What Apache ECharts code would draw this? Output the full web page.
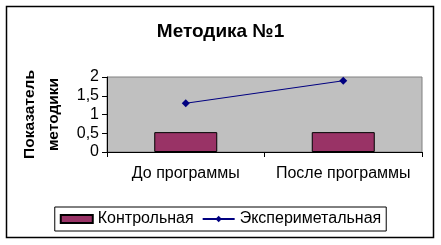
<!DOCTYPE html>
<html><head><meta charset="utf-8">
<script src="https://cdn.jsdelivr.net/npm/echarts@6/dist/echarts.min.js"></script>
<style>html,body{margin:0;padding:0;background:#fff}#c{width:441px;height:245px}</style>
</head><body><div id="c"></div>
<script>
const categories = ['До программы', 'После программы'];
const seriesNames = ['Контрольная', 'Экспериметальная'];
const controlValues = [0.53, 0.53];
const experimentalValues = [1.3, 1.9];
const yTicks = ['0', '0,5', '1', '1,5', '2'];
const chart = echarts.init(document.getElementById('c'), null, {renderer: 'canvas'});
const font = 'Liberation Sans, Arial, sans-serif';
chart.setOption({
  animation: false,
  backgroundColor: '#fff',
  title: {
    text: 'Методика №1', left: 'center', top: 17,
    textStyle: {fontFamily: font, fontSize: 19, fontWeight: 'bold', color: '#000'}
  },
  graphic: [{type: 'rect', shape: {x: 6.5, y: 6.5, width: 427, height: 231}, style: {fill: 'none', stroke: '#000', lineWidth: 1.5}, z: 100}],
  grid: {left: 107, right: 19, top: 77, bottom: 93, show: true, backgroundColor: '#c0c0c0', borderColor: '#808080', borderWidth: 1},
  legend: {
    bottom: 14, left: 'center',
    itemWidth: 32, itemHeight: 8, itemGap: 8,
    borderColor: '#000', borderWidth: 1, padding: [4, 5, 4, 5],
    textStyle: {fontFamily: font, fontSize: 16, color: '#000'},
    data: [{name: seriesNames[0], icon: 'rect'}, {name: seriesNames[1]}]
  },
  xAxis: {
    type: 'category', data: categories,
    axisLine: {lineStyle: {color: '#000'}},
    axisTick: {show: true, alignWithLabel: false, interval: 0, length: 5, lineStyle: {color: '#000'}},
    axisLabel: {fontFamily: font, fontSize: 16, color: '#000', margin: 14, interval: 0},
    splitLine: {show: false}
  },
  yAxis: {
    type: 'value', min: 0, max: 2, interval: 0.5,
    name: 'Показатель\nметодики', nameLocation: 'middle', nameGap: 40, nameRotate: 90,
    nameTextStyle: {fontFamily: font, fontSize: 15.5, fontWeight: 'bold', color: '#000', lineHeight: 24},
    axisLine: {show: true, lineStyle: {color: '#000'}},
    axisTick: {show: true, inside: false, length: 5, lineStyle: {color: '#000'}},
    axisLabel: {fontFamily: font, fontSize: 16, color: '#000', margin: 8, formatter: v => yTicks[Math.round(v * 2)]},
    splitLine: {show: false}
  },
  series: [
    {name: seriesNames[0], type: 'bar', data: controlValues, barWidth: '40%', barGap: '-100%',
     itemStyle: {color: '#993366', borderColor: '#000', borderWidth: 1}},
    {name: seriesNames[1], type: 'line', data: experimentalValues,
     symbol: 'diamond', symbolSize: 8, lineStyle: {color: '#000080', width: 1}, itemStyle: {color: '#000080'}}
  ]
});
</script></body></html>
